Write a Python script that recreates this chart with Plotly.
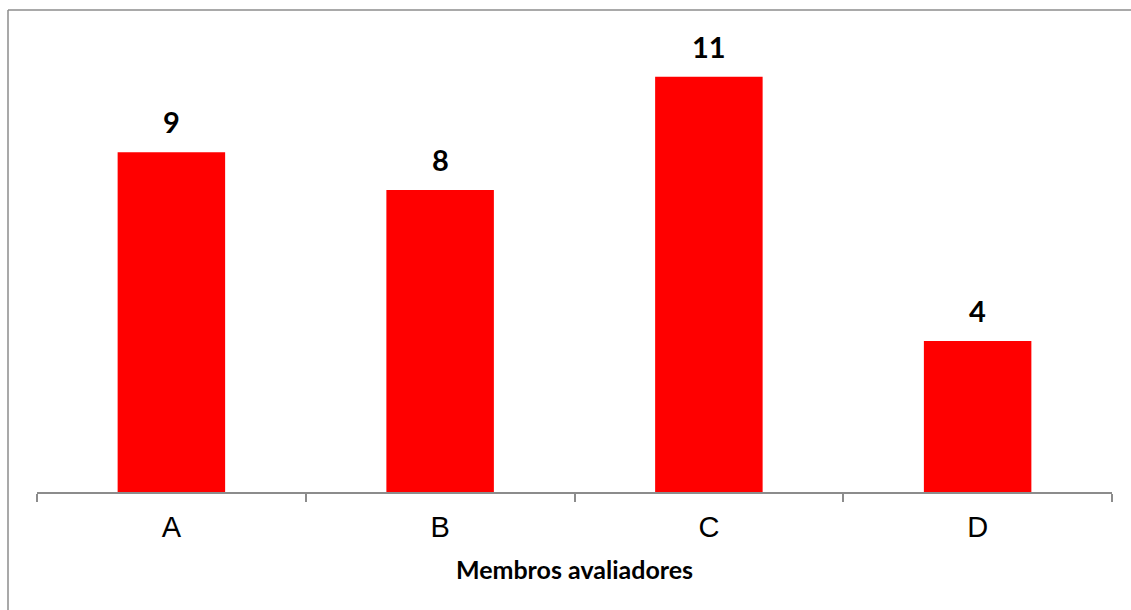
import plotly.graph_objects as go

# Evaluation counts per evaluating member
members = ["A", "B", "C", "D"]
counts = [9, 8, 11, 4]

axis_grey = "#8c8c8c"

fig = go.Figure(
    go.Bar(
        x=members,
        y=counts,
        marker=dict(color="#ff0000", line=dict(width=0)),
        hoverinfo="skip",
    )
)

# Bold value labels sitting above each bar
for m, v in zip(members, counts):
    fig.add_annotation(
        x=m, y=v, xref="x", yref="y",
        text=str(v), showarrow=False,
        yanchor="bottom", yshift=11,
        font=dict(family="Lato", size=29, color="#000000", weight="bold"),
    )

fig.update_layout(
    width=1131,
    height=610,
    margin=dict(l=37, r=19, t=39, b=118),
    paper_bgcolor="white",
    plot_bgcolor="white",
    bargap=0.6,
    showlegend=False,
    font=dict(family="Liberation Sans", color="#000000"),
)

fig.update_xaxes(
    type="category",
    tickson="boundaries",
    ticks="outside",
    ticklen=8,
    tickwidth=1.5,
    tickcolor=axis_grey,
    showline=True,
    linecolor=axis_grey,
    linewidth=1.5,
    showgrid=False,
    ticklabelstandoff=8,
    tickfont=dict(family="Liberation Sans", size=29, color="#000000"),
    title=dict(
        text="Membros avaliadores",
        font=dict(family="Lato", size=25, color="#000000", weight="bold"),
        standoff=20,
    ),
)

fig.update_yaxes(
    range=[0, 12],
    visible=False,
    showgrid=False,
    zeroline=False,
)

# Chart frame: top and left edges of the outer border
fig.add_shape(type="line", xref="paper", yref="paper",
              x0=-29 / 1075, x1=1.02, y0=1 + 29 / 453, y1=1 + 29 / 453,
              line=dict(color=axis_grey, width=1.5))
fig.add_shape(type="line", xref="paper", yref="paper",
              x0=-29 / 1075, x1=-29 / 1075, y0=1 + 29 / 453, y1=-0.3,
              line=dict(color=axis_grey, width=1.5))

fig.write_html("out.html")
